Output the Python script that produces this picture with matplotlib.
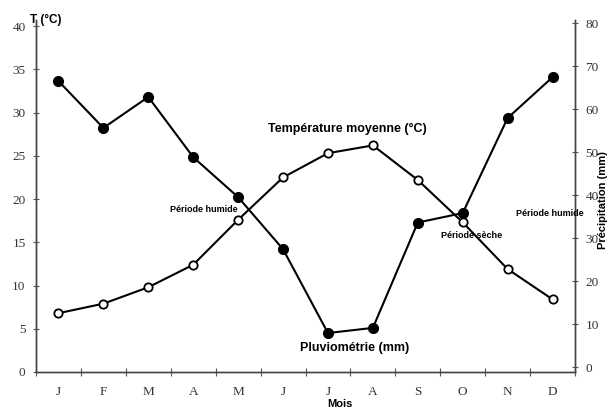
import numpy as np
import matplotlib.pyplot as plt

months = ['J', 'F', 'M', 'A', 'M', 'J', 'J', 'A', 'S', 'O', 'N', 'D']
temp = [6.8, 7.9, 9.8, 12.4, 17.6, 22.5, 25.3, 26.2, 22.2, 17.3, 11.9, 8.4]
precip = [66.5, 55.6, 62.8, 48.8, 39.5, 27.4, 7.9, 9.1, 33.6, 35.8, 57.9, 67.4]

x = np.arange(len(months)) + 0.5
serif = 'Liberation Serif'
sans = 'Liberation Sans'

fig = plt.figure(figsize=(6.1, 4.09), dpi=100)
ax = fig.add_axes([36/610, 1-372/409, 539/610, 352/409])
ax2 = ax.twinx()

ax.plot(x, temp, '-o', color='black', lw=1.5, ms=6, mfc='white', mec='black', mew=1.3, zorder=3)
ax2.plot(x, precip, '-o', color='black', lw=1.5, ms=7, mfc='black', mec='black', zorder=3)

ax.set_xlim(0, 12)
ax.set_ylim(0, 40.7)
ax2.set_ylim(-1.16, 80.7)

ax.set_xticks(np.arange(0, 13))
ax.set_xticklabels([])
ax.set_xticks(x, minor=True)
ax.set_xticklabels(months, minor=True, fontfamily=serif, fontsize=9.5, color='#333333')
ax.tick_params(axis='x', which='minor', length=0, pad=10)
ax.tick_params(axis='x', which='major', direction='inout', length=6, width=0.8, color='#555555')

ax.set_yticks(np.arange(0, 41, 5))
ax.set_yticklabels([str(v) for v in range(0, 41, 5)], fontfamily=serif, fontsize=9.5, color='#333333')
ax.tick_params(axis='y', direction='inout', length=5, width=0.8, color='#555555', pad=5)

ax2.set_yticks(np.arange(0, 81, 10))
ax2.set_yticklabels([str(v) for v in range(0, 81, 10)], fontfamily=serif, fontsize=9.5, color='#333333')
ax2.tick_params(axis='y', direction='inout', length=5, width=0.8, color='#555555', pad=5)

for a in (ax, ax2):
    a.spines['top'].set_visible(False)
    for s in ('left', 'right', 'bottom'):
        a.spines[s].set_linewidth(1.0)
        a.spines[s].set_color('#444444')

fig.text(30/610, 1-20/409, 'T (°C)', fontfamily=sans, fontweight='bold', fontsize=8.5, va='center', ha='left')
fig.text(603/610, 1-200/409, 'Précipitation (mm)', fontfamily=sans, fontweight='bold', fontsize=8,
         rotation=90, va='center', ha='center')
fig.text(340/610, 1-404/409, 'Mois', fontfamily=sans, fontweight='bold', fontsize=8, va='center', ha='center')

fig.text(347/610, 1-129/409, 'Température moyenne (°C)', fontfamily=sans, fontweight='bold', fontsize=9,
         va='center', ha='center')
fig.text(355/610, 1-348/409, 'Pluviométrie (mm)', fontfamily=sans, fontweight='bold', fontsize=9,
         va='center', ha='center')
fig.text(204/610, 1-210/409, 'Période humide', fontfamily=sans, fontweight='bold', fontsize=6.5,
         va='center', ha='center')
fig.text(472/610, 1-235/409, 'Période sèche', fontfamily=sans, fontweight='bold', fontsize=6.5,
         va='center', ha='center')
fig.text(550/610, 1-214/409, 'Période humide', fontfamily=sans, fontweight='bold', fontsize=6.5,
         va='center', ha='center')

fig.savefig('out.png', dpi=100)
